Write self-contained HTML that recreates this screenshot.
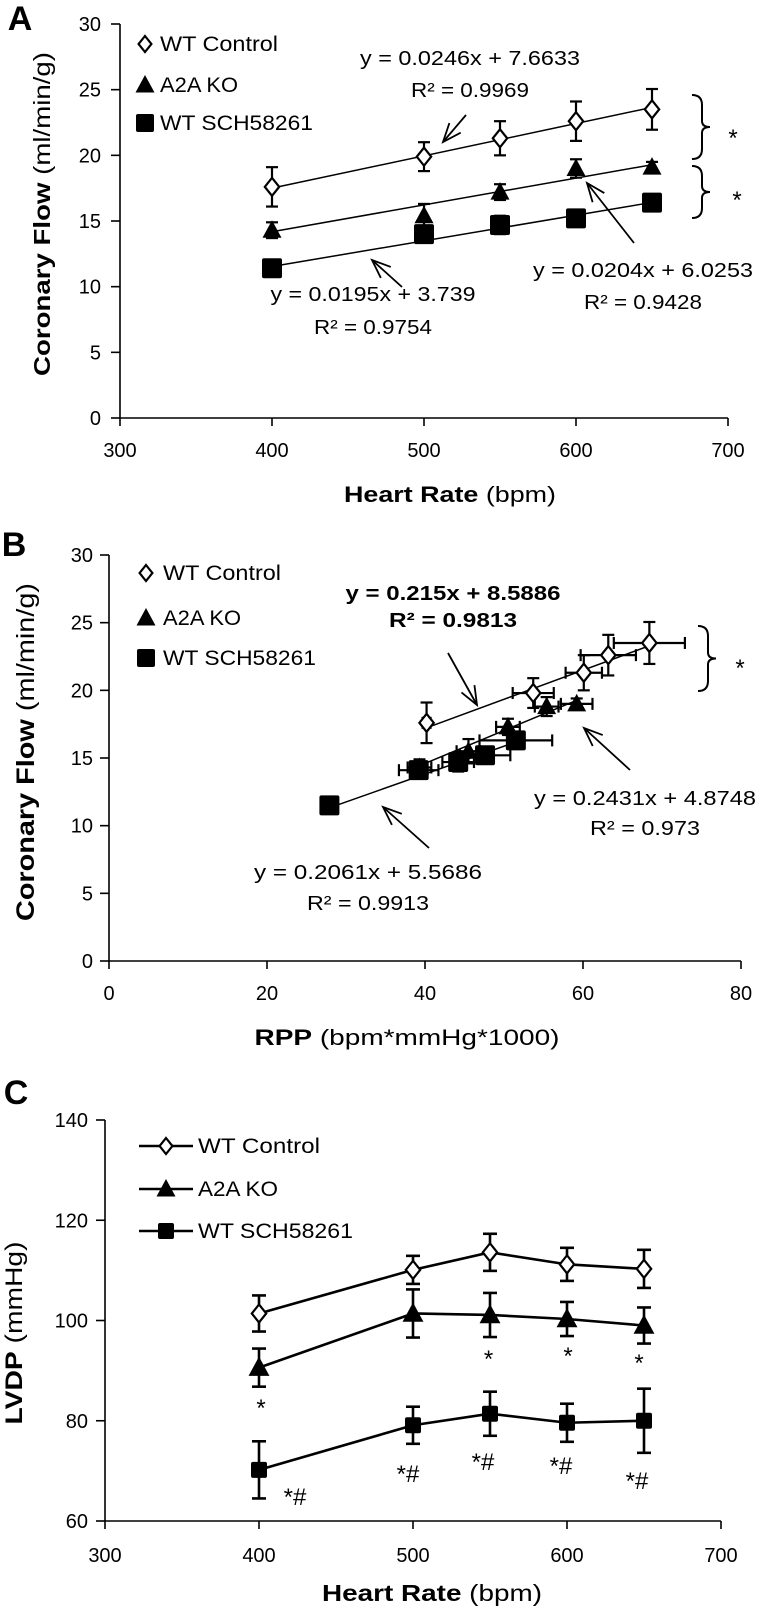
<!DOCTYPE html>
<html><head><meta charset="utf-8"><style>
html,body{margin:0;padding:0;background:#fff;}
svg{display:block;}
text{font-family:"Liberation Sans",sans-serif;fill:#000;}
</style></head><body>
<svg id="fig" xmlns="http://www.w3.org/2000/svg" width="760" height="1610" viewBox="0 0 760 1610"></svg>
<script>
// ---------- Panel A data ----------
const hrA = [400, 500, 550, 600, 650];
const flowCtrlA = [17.6, 19.9, 21.3, 22.6, 23.5];
const errCtrlA = [1.5, 1.1, 1.3, 1.5, 1.55];
const flowKoA = [14.3, 15.4, 17.2, 19.0, 19.1];
const errKoA = [0.6, 0.9, 0.6, 0.7, 0.4];
const flowSchA = [11.4, 14.0, 14.7, 15.2, 16.4];
const errSchA = [0.4, 0.6, 0.7, 0.4, 0.4];
const slopesA = [0.0246, 0.0204, 0.0195];
const interceptsA = [7.6633, 6.0253, 3.739];
const xTicksA = [300, 400, 500, 600, 700];
const yTicksA = [0, 5, 10, 15, 20, 25, 30];
// ---------- Panel B data ----------
const rppCtrl = [40.2, 53.7, 60.1, 63.2, 68.4];
const rppErrCtrl = [0.5, 2.6, 2.3, 3.5, 4.5];
const flowCtrlB = [17.6, 19.8, 21.3, 22.6, 23.5];
const rppKo = [39.3, 45.5, 50.5, 55.4, 59.2];
const rppErrKo = [1.5, 1.5, 1.5, 1.5, 2.0];
const flowKoB = [14.3, 15.5, 17.3, 18.8, 19.0];
const rppSch = [27.9, 39.2, 44.2, 47.6, 51.5];
const rppErrSch = [0.5, 2.5, 2.0, 3.2, 4.6];
const flowSchB = [11.5, 14.1, 14.7, 15.2, 16.3];
const slopesB = [0.215, 0.2431, 0.2061];
const interceptsB = [8.5886, 4.8748, 5.5686];
const xTicksB = [0, 20, 40, 60, 80];
const yTicksB = [0, 5, 10, 15, 20, 25, 30];
// ---------- Panel C data ----------
const hrC = [400, 500, 550, 600, 650];
const lvdpCtrl = [101.4, 110.1, 113.6, 111.2, 110.3];
const lvdpErrCtrl = [3.6, 2.8, 3.7, 3.3, 3.8];
const lvdpKo = [90.6, 101.4, 101.1, 100.3, 99.0];
const lvdpErrKo = [3.8, 4.8, 4.4, 3.4, 3.6];
const lvdpSch = [70.2, 79.1, 81.4, 79.6, 80.0];
const lvdpErrSch = [5.7, 3.7, 4.4, 3.8, 6.4];
const xTicksC = [300, 400, 500, 600, 700];
const yTicksC = [60, 80, 100, 120, 140];

const NS = 'http://www.w3.org/2000/svg';
const svg = document.getElementById('fig');
function mk(tag, attrs, parent) {
  const e = document.createElementNS(NS, tag);
  for (const k in attrs) e.setAttribute(k, attrs[k]);
  (parent || svg).appendChild(e);
  return e;
}
function txt(str, x, y, size, opts, parent) {
  opts = opts || {};
  const t = mk('text', {x: x, y: y, 'font-size': size, 'text-anchor': opts.anchor || 'middle'}, parent);
  if (opts.bold) t.setAttribute('font-weight', 'bold');
  if (opts.len) { t.setAttribute('textLength', opts.len); t.setAttribute('lengthAdjust', 'spacingAndGlyphs'); }
  if (opts.rot) t.setAttribute('transform', 'rotate(-90 ' + x + ' ' + y + ')');
  t.textContent = str;
  return t;
}
function marker(type, x, y, s, g) {
  if (type === 'diamond') {
    return mk('polygon', {points: (x)+','+(y-s)+' '+(x+s*0.8)+','+y+' '+x+','+(y+s)+' '+(x-s*0.8)+','+y, fill: '#fff', stroke: '#000', 'stroke-width': 2.2}, g);
  } else if (type === 'tri') {
    return mk('polygon', {points: x+','+(y-s)+' '+(x+s*0.95)+','+(y+s*0.75)+' '+(x-s*0.95)+','+(y+s*0.75), fill: '#000'}, g);
  }
  return mk('rect', {x: x-s, y: y-s, width: 2*s, height: 2*s, rx: 2, fill: '#000'}, g);
}
function vErr(x, y1, y2, cap, w, g) {
  mk('line', {x1: x, y1: y1, x2: x, y2: y2, stroke: '#000', 'stroke-width': w}, g);
  mk('line', {x1: x-cap, y1: y1, x2: x+cap, y2: y1, stroke: '#000', 'stroke-width': w}, g);
  mk('line', {x1: x-cap, y1: y2, x2: x+cap, y2: y2, stroke: '#000', 'stroke-width': w}, g);
}
function hErr(y, x1, x2, cap, w, g) {
  mk('line', {x1: x1, y1: y, x2: x2, y2: y, stroke: '#000', 'stroke-width': w}, g);
  mk('line', {x1: x1, y1: y-cap, x2: x1, y2: y+cap, stroke: '#000', 'stroke-width': w}, g);
  mk('line', {x1: x2, y1: y-cap, x2: x2, y2: y+cap, stroke: '#000', 'stroke-width': w}, g);
}
function arrow(x1, y1, x2, y2, g) {
  mk('line', {x1: x1, y1: y1, x2: x2, y2: y2, stroke: '#000', 'stroke-width': 1.8}, g);
  const a = Math.atan2(y2-y1, x2-x1), L = 20, sp = 0.38;
  mk('polyline', {points: (x2-L*Math.cos(a-sp))+','+(y2-L*Math.sin(a-sp))+' '+x2+','+y2+' '+(x2-L*Math.cos(a+sp))+','+(y2-L*Math.sin(a+sp)), fill: 'none', stroke: '#000', 'stroke-width': 1.8}, g);
}
function brace(x, y1, y2, g) {
  const m = (y1+y2)/2;
  mk('path', {d: 'M'+x+','+y1+' Q'+(x+10)+','+y1+' '+(x+10)+','+(y1+10)+' L'+(x+10)+','+(m-6)+' Q'+(x+10)+','+m+' '+(x+18)+','+m+' Q'+(x+10)+','+m+' '+(x+10)+','+(m+6)+' L'+(x+10)+','+(y2-10)+' Q'+(x+10)+','+y2+' '+x+','+y2, fill: 'none', stroke: '#000', 'stroke-width': 2}, g);
}
function axes(g, X0, X1, Y0, Y1, xt, yt, sx, sy, xLabY, yLabX, w) {
  mk('line', {x1: X0, y1: Y0, x2: X1, y2: Y0, stroke: '#000', 'stroke-width': w}, g);
  mk('line', {x1: X0, y1: Y0, x2: X0, y2: Y1, stroke: '#000', 'stroke-width': w}, g);
  xt.forEach(v => {
    const x = sx(v);
    const tk = mk('line', {x1: x, y1: Y0, x2: x, y2: Y0+8, stroke: '#000', 'stroke-width': w}, g);
    
    
    const t = txt(String(v), x, xLabY, 20, {}, g);
    
    
  });
  yt.forEach(v => {
    const y = sy(v);
    const tk = mk('line', {x1: X0-9, y1: y, x2: X0, y2: y, stroke: '#000', 'stroke-width': w}, g);
    
    
    const t = txt(String(v), yLabX, y+7, 20, {anchor: 'end'}, g);
    
    
  });
}
function legendItem(g, type, x, y, label, s, withLine) {
  const li = mk('g', {}, g);
  
  
  if (withLine) mk('line', {x1: x-27, y1: y, x2: x+27, y2: y, stroke: '#000', 'stroke-width': 2.5}, li);
  marker(type, x, y, s, li);
  return li;
}

// ================= PANEL A =================
const gA = mk('g', {});


const axA = {X0: 120, X1: 728, Y0: 418, Y1: 24};
const sxA = v => axA.X0 + (v - 300) / 400 * (axA.X1 - axA.X0);
const syA = v => axA.Y0 - v / 30 * (axA.Y0 - axA.Y1);
axes(gA, axA.X0, axA.X1, axA.Y0, axA.Y1, xTicksA, yTicksA, sxA, syA, 457, 101, 1.6);
txt('A', 20, 30, 34, {bold: true}, gA);
const ytA = txt('', 50, 214, 23, {rot: true, len: 324}, gA);


ytA.innerHTML = '<tspan font-weight="bold">Coronary Flow</tspan> (ml/min/g)';
const xtA = txt('', 450, 502, 22, {len: 212}, gA);


xtA.innerHTML = '<tspan font-weight="bold">Heart Rate</tspan> (bpm)';
[0, 1, 2].forEach(i => {
  const l = mk('line', {x1: sxA(400), y1: syA(slopesA[i]*400+interceptsA[i]), x2: sxA(650), y2: syA(slopesA[i]*650+interceptsA[i]), stroke: '#000', 'stroke-width': 1.5}, gA);
  
  
});
const seriesA = [[flowSchA, errSchA, 'square', 10], [flowKoA, errKoA, 'tri', 10], [flowCtrlA, errCtrlA, 'diamond', 9]];
seriesA.forEach(s => {
  hrA.forEach((h, i) => {
    const x = sxA(h), y = syA(s[0][i]);
    vErr(x, syA(s[0][i]+s[1][i]), syA(s[0][i]-s[1][i]), 6, 2.2, gA);
    const m = marker(s[2], x, y, s[3], gA);
    
    
  });
});
legendItem(gA, 'diamond', 145, 44, '', 8, false);
legendItem(gA, 'tri', 145, 85, '', 10, false);
legendItem(gA, 'square', 145, 123, '', 9, false);
txt('WT Control', 160, 51, 21, {anchor: 'start', len: 118}, gA);
txt('A2A KO', 160, 92, 21, {anchor: 'start', len: 78}, gA);
txt('WT SCH58261', 160, 130, 21, {anchor: 'start', len: 153}, gA);
txt('y = 0.0246x + 7.6633', 470, 65, 20, {len: 220}, gA);
txt('R² = 0.9969', 470, 97, 20, {len: 118}, gA);
arrow(466, 115, 443, 142, gA);
txt('y = 0.0204x + 6.0253', 643, 277, 20, {len: 220}, gA);
txt('R² = 0.9428', 643, 309, 20, {len: 118}, gA);
arrow(634, 243, 587, 183, gA);
txt('y = 0.0195x + 3.739', 373, 301, 20, {len: 205}, gA);
txt('R² = 0.9754', 373, 334, 20, {len: 118}, gA);
arrow(402, 287, 372, 260, gA);
brace(692, 95, 159, gA);
brace(692, 166, 218, gA);
txt('*', 733, 146, 24, {}, gA);
txt('*', 737, 208, 24, {}, gA);

// ================= PANEL B =================
const gB = mk('g', {});


const axB = {X0: 109, X1: 741, Y0: 961, Y1: 555};
const sxB = v => axB.X0 + v / 80 * (axB.X1 - axB.X0);
const syB = v => axB.Y0 - v / 30 * (axB.Y0 - axB.Y1);
axes(gB, axB.X0, axB.X1, axB.Y0, axB.Y1, xTicksB, yTicksB, sxB, syB, 1000, 93, 1.6);
txt('B', 14, 556, 34, {bold: true}, gB);
const ytB = txt('', 34, 752, 25, {rot: true, len: 338}, gB);


ytB.innerHTML = '<tspan font-weight="bold">Coronary Flow</tspan> (ml/min/g)';
const xtB = txt('', 407, 1045, 22, {len: 305}, gB);


xtB.innerHTML = '<tspan font-weight="bold">RPP</tspan> (bpm*mmHg*1000)';
const rangeB = [[rppCtrl[0], rppCtrl[4]], [rppKo[0], rppKo[4]], [rppSch[0], rppSch[4]]];
[0, 1, 2].forEach(i => {
  const a = rangeB[i][0], b = rangeB[i][1];
  const l = mk('line', {x1: sxB(a), y1: syB(slopesB[i]*a+interceptsB[i]), x2: sxB(b), y2: syB(slopesB[i]*b+interceptsB[i]), stroke: '#000', 'stroke-width': 1.5}, gB);
  
  
});
const seriesB = [[rppSch, rppErrSch, flowSchB, errSchA, 'square', 10], [rppKo, rppErrKo, flowKoB, errKoA, 'tri', 10], [rppCtrl, rppErrCtrl, flowCtrlB, errCtrlA, 'diamond', 9]];
seriesB.forEach(s => {
  s[0].forEach((r, i) => {
    const x = sxB(r), y = syB(s[2][i]);
    vErr(x, syB(s[2][i]+s[3][i]), syB(s[2][i]-s[3][i]), 6, 2.2, gB);
    hErr(y, sxB(r - s[1][i]), sxB(r + s[1][i]), 6, 2.2, gB);
    const m = marker(s[4], x, y, s[5], gB);
    
    
  });
});
legendItem(gB, 'diamond', 146, 573, '', 8, false);
legendItem(gB, 'tri', 146, 618, '', 10, false);
legendItem(gB, 'square', 146, 658, '', 9, false);
txt('WT Control', 163, 580, 21, {anchor: 'start', len: 118}, gB);
txt('A2A KO', 163, 625, 21, {anchor: 'start', len: 78}, gB);
txt('WT SCH58261', 163, 665, 21, {anchor: 'start', len: 153}, gB);
txt('y = 0.215x + 8.5886', 453, 600, 20, {bold: true, len: 215}, gB);
txt('R² = 0.9813', 453, 627, 20, {bold: true, len: 128}, gB);
arrow(448, 653, 477, 705, gB);
txt('y = 0.2431x + 4.8748', 645, 805, 20, {len: 222}, gB);
txt('R² = 0.973', 645, 835, 20, {len: 110}, gB);
arrow(630, 770, 584, 728, gB);
txt('y = 0.2061x + 5.5686', 368, 879, 20, {len: 228}, gB);
txt('R² = 0.9913', 368, 910, 20, {len: 122}, gB);
arrow(429, 848, 383, 807, gB);
brace(698, 626, 691, gB);
txt('*', 740, 676, 24, {}, gB);

// ================= PANEL C =================
const gC = mk('g', {});


const axC = {X0: 105, X1: 721, Y0: 1521, Y1: 1120};
const sxC = v => axC.X0 + (v - 300) / 400 * (axC.X1 - axC.X0);
const syC = v => axC.Y0 - (v - 60) / 80 * (axC.Y0 - axC.Y1);
axes(gC, axC.X0, axC.X1, axC.Y0, axC.Y1, xTicksC, yTicksC, sxC, syC, 1562, 88, 1.6);
txt('C', 16, 1104, 34, {bold: true}, gC);
const ytC = txt('', 22, 1333, 24, {rot: true, len: 183}, gC);


ytC.innerHTML = '<tspan font-weight="bold">LVDP</tspan> (mmHg)';
const xtC = txt('', 432, 1601, 23, {len: 220}, gC);


xtC.innerHTML = '<tspan font-weight="bold">Heart Rate</tspan> (bpm)';
const seriesC = [[lvdpCtrl, lvdpErrCtrl, 'diamond', 9], [lvdpKo, lvdpErrKo, 'tri', 11], [lvdpSch, lvdpErrSch, 'square', 8]];
seriesC.forEach(s => {
  const pts = hrC.map((h, i) => sxC(h) + ',' + syC(s[0][i])).join(' ');
  const pl = mk('polyline', {points: pts, fill: 'none', stroke: '#000', 'stroke-width': 2.6}, gC);
  
  
});
seriesC.forEach(s => {
  hrC.forEach((h, i) => {
    const x = sxC(h), y = syC(s[0][i]);
    vErr(x, syC(s[0][i]+s[1][i]), syC(s[0][i]-s[1][i]), 7, 2.6, gC);
    const m = marker(s[2], x, y, s[3], gC);
    
    
  });
});
legendItem(gC, 'diamond', 166, 1146, '', 8, true);
legendItem(gC, 'tri', 166, 1189, '', 10, true);
legendItem(gC, 'square', 166, 1231, '', 8, true);
txt('WT Control', 198, 1153, 21, {anchor: 'start', len: 122}, gC);
txt('A2A KO', 198, 1196, 21, {anchor: 'start', len: 80}, gC);
txt('WT SCH58261', 198, 1238, 21, {anchor: 'start', len: 155}, gC);
const starXs = [[261, 1416], [488.5, 1367], [568, 1364], [639, 1371]];
starXs.forEach(p => { txt('*', p[0], p[1], 24, {}, gC); });
const hashPos = [[295, 1505], [408, 1482], [483, 1470], [561, 1474], [637, 1489]];
hashPos.forEach(p => { txt('*#', p[0], p[1], 24, {}, gC); });
</script>
</body></html>
